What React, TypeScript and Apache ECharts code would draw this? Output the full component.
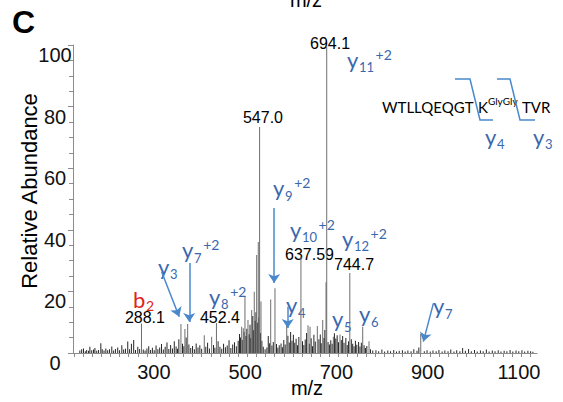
import React, { useEffect, useRef } from 'react';
import * as echarts from 'echarts';

const FONT = '"Liberation Sans", Arial, sans-serif';
const LFONT = 'Lato, "Liberation Sans", sans-serif';
const BLUE_TEXT = '#3a68ae';
const BLUE_LINE = '#4a88cc';
const RED = '#e0231b';
const AXIS_GREY = '#8c8c8c';

const X_MIN = 138;
const X_MAX = 1155;
const xLabelValues = [300, 500, 700, 900, 1100];
const yLabelValues = [0, 20, 40, 60, 80, 100];

// labelled / prominent fragment peaks [m/z, relative abundance]
const majorPeaks: [number, number][] = [
  [288.1, 9.6], [374.6, 9.4], [383.3, 7.8], [389.3, 9.4], [425.7, 5.8], [441.9, 5.3],
  [452.4, 9.7], [507.7, 8.5], [511.2, 8.0], [514.9, 18.3], [521.5, 10.7], [529.6, 14.0],
  [535.3, 19.9], [540.6, 31.8], [544.1, 36.0], [547.0, 73.4], [550.0, 16.7], [571.3, 17.4],
  [580.7, 21.0], [606.4, 9.6], [637.59, 31.3], [653.1, 9.0], [657.5, 8.5], [673.5, 8.8],
  [685.3, 10.7], [692.6, 23.0], [694.1, 99.5], [708.6, 5.3], [723.2, 6.0], [744.7, 26.0],
  [773.0, 8.5], [786.8, 3.8], [900.2, 6.2],
];

// small background peaks [m/z, relative abundance]
const noisePeaks: [number, number][] = [
  [153, 0.8], [157, 1.2], [161, 1.5], [165, 0.6], [168, 1.0], [172, 0.7], [175, 2.0], [179, 0.9],
  [183, 1.1], [186, 1.6], [190, 0.7], [194, 1.0], [199, 3.2], [202, 1.2], [206, 0.8], [210, 1.5],
  [214, 0.9], [218, 1.2], [223, 2.1], [227, 0.8], [231, 1.3], [236, 1.8], [240, 0.9], [245, 2.5],
  [249, 1.1], [253, 1.4], [258, 3.7], [262, 1.2], [266, 3.0], [271, 4.2], [275, 1.0], [280, 2.0],
  [284, 1.3], [292, 1.1], [296, 0.8], [300, 1.5], [304, 2.2], [308, 1.0], [312, 1.7], [316, 0.9],
  [320, 2.4], [324, 1.2], [328, 1.8], [332, 2.9], [336, 1.1], [340, 2.0], [344, 3.4], [348, 1.3],
  [352, 2.6], [356, 1.5], [360, 3.8], [364, 2.1], [367, 1.4], [370, 4.5], [378, 3.0], [381, 2.2],
  [386, 5.0], [392, 2.8], [396, 1.6], [400, 2.3], [404, 1.2], [408, 3.1], [412, 1.8], [416, 2.5],
  [420, 1.4], [429, 2.0], [433, 3.3], [437, 1.5], [446, 2.6], [449, 1.7], [456, 3.8], [460, 2.0],
  [464, 1.4], [468, 3.0], [472, 1.9], [476, 2.4], [480, 4.1], [484, 1.6], [488, 2.8], [492, 3.5],
  [496, 2.2], [500, 4.0], [503, 6.2], [505, 5.0], [509, 4.2], [513, 6.8], [517, 5.5], [519, 7.9],
  [524, 6.1], [526, 9.2], [528, 4.8], [532, 12.0], [534, 7.4], [537, 10.5], [539, 13.2], [542, 9.8],
  [545, 11.5], [549, 6.5], [552, 4.0], [555, 2.0], [559, 1.2], [563, 1.8], [566, 5.5], [569, 3.2],
  [574, 2.4], [577, 3.6], [584, 2.9], [587, 1.7], [590, 2.5], [594, 3.1], [597, 1.9], [600, 4.2],
  [603, 2.8], [609, 5.6], [612, 3.4], [615, 6.8], [618, 4.0], [621, 5.9], [624, 3.3], [627, 4.6],
  [630, 2.5], [633, 5.2], [641, 3.8], [644, 2.6], [647, 4.4], [650, 6.5], [656, 3.0], [660, 4.8],
  [663, 2.2], [666, 5.9], [669, 3.7], [677, 4.5], [680, 6.0], [682, 3.2], [688, 4.9], [690, 7.5],
  [697, 3.6], [700, 2.8], [703, 4.1], [706, 3.0], [711, 6.4], [714, 4.7], [717, 5.8], [720, 3.5],
  [726, 4.2], [729, 5.5], [732, 3.3], [736, 4.9], [739, 2.6], [742, 3.8], [748, 4.5], [751, 3.0],
  [754, 2.2], [757, 4.0], [760, 2.7], [764, 3.6], [767, 2.1], [770, 3.3], [776, 2.5], [779, 1.6],
  [782, 2.3], [790, 1.2], [795, 0.8], [802, 0.9], [808, 0.6], [815, 1.1], [821, 0.5], [828, 0.8],
  [834, 0.6], [841, 1.0], [847, 0.5], [853, 0.7], [860, 0.9], [866, 0.5], [872, 0.8], [879, 0.6],
  [885, 1.2], [892, 0.7], [896, 1.8], [908, 0.6], [914, 0.9], [921, 0.5], [927, 0.8], [934, 0.6],
  [940, 1.0], [947, 0.5], [953, 0.8], [960, 0.6], [966, 1.1], [973, 0.5], [979, 0.9], [986, 0.6],
  [992, 1.6], [998, 0.7], [1005, 1.3], [1011, 0.6], [1018, 1.0], [1024, 0.5], [1031, 0.8], [1037, 0.6],
  [1044, 1.1], [1050, 0.5], [1057, 0.8], [1063, 0.6], [1070, 0.9], [1076, 0.5], [1083, 0.7], [1089, 0.6],
  [1096, 1.0], [1102, 0.5], [1109, 0.8], [1115, 0.6], [1122, 0.9], [1128, 0.5], [1135, 0.7], [1141, 0.6],
  [1146, 0.4],
];

// numeric m/z annotations, anchored in data space (centre of text)
const peakLabels = [
  { text: '694.1', mz: 701.3, val: 100.6 },
  { text: '547.0', mz: 554.4, val: 76.3 },
  { text: '637.59', mz: 656.4, val: 32.1 },
  { text: '744.7', mz: 754.0, val: 28.6 },
  { text: '288.1', mz: 295.6, val: 11.4 },
  { text: '452.4', mz: 460.1, val: 11.4 },
];

// ion annotations, anchored in data space (left / middle of base letter)
const ionLabels = [
  { base: 'y', sub: '11', sup: '+2', mz: 738.6, val: 95.3 },
  { base: 'y', sub: '9', sup: '+2', mz: 576.3, val: 53.7 },
  { base: 'y', sub: '10', sup: '+2', mz: 613.6, val: 40.1 },
  { base: 'y', sub: '12', sup: '+2', mz: 727.6, val: 37.3 },
  { base: 'y', sub: '7', sup: '+2', mz: 376.8, val: 33.6 },
  { base: 'y', sub: '3', sup: '', mz: 324.1, val: 28.1 },
  { base: 'b', sub: '2', sup: '', mz: 269.3, val: 17.4 },
  { base: 'y', sub: '8', sup: '+2', mz: 436.0, val: 18.5 },
  { base: 'y', sub: '4', sup: '', mz: 604.8, val: 15.7 },
  { base: 'y', sub: '5', sup: '', mz: 705.7, val: 11.2 },
  { base: 'y', sub: '6', sup: '', mz: 764.9, val: 12.8 },
  { base: 'y', sub: '7', sup: '', mz: 927.2, val: 15.3 },
];

// arrows: [from m/z, from value, to m/z, to value]
const arrows: [number, number, number, number][] = [
  [578.9, 47.1, 578.9, 22.7],
  [392.8, 29.2, 392.8, 10.1],
  [332.2, 26.4, 370.8, 11.8],
  [608.6, 15.0, 608.6, 8.1],
  [927.9, 16.1, 905.9, 3.7],
];

const xTickValues: number[] = [];
for (let v = 140; v <= 1140; v += 20) xTickValues.push(v);

function ionGraphic(x: number, y: number, base: string, sub: string, sup: string, color: string) {
  const isB = base === 'b';
  const baseW = isB ? 12 : 11;
  const subFs = isB ? 14 : 13;
  const subW = sub.length * subFs * 0.56;
  const els: any[] = [
    { type: 'text', x, y, silent: true, style: { text: base, fill: color, fontSize: 22, fontFamily: LFONT, align: 'left', verticalAlign: 'middle' } },
    { type: 'text', x: x + baseW + 1, y: y + (isB ? 6 : 8), silent: true, style: { text: sub, fill: color, fontSize: subFs, fontFamily: LFONT, align: 'left', verticalAlign: 'middle' } },
  ];
  if (sup) {
    els.push({ type: 'text', x: x + baseW + 1 + subW + 2, y: y - 5, silent: true, style: { text: sup, fill: color, fontSize: 14, fontFamily: LFONT, align: 'left', verticalAlign: 'middle' } });
  }
  return els;
}

export default function App() {
  const ref = useRef<HTMLDivElement>(null);
  useEffect(() => {
    if (!ref.current) return;
    const chart = echarts.init(ref.current, undefined, { renderer: 'svg' });
    chart.setOption({
      animation: false,
      backgroundColor: '#ffffff',
      textStyle: { fontFamily: FONT },
      grid: { left: 73, right: 26, top: 45, bottom: 49, containLabel: false },
      xAxis: {
        type: 'value',
        min: X_MIN,
        max: X_MAX,
        axisLine: { show: true, onZero: false, lineStyle: { color: AXIS_GREY, width: 1 } },
        axisTick: { show: true, customValues: xTickValues, length: 4, lineStyle: { color: AXIS_GREY } },
        axisLabel: {
          customValues: xLabelValues, color: '#111', fontSize: 20, fontFamily: FONT, margin: 9,
          padding: [0, 0, 0, 14], formatter: (v: number) => String(v),
        },
        splitLine: { show: false },
      },
      yAxis: {
        type: 'value',
        min: 0,
        max: 100,
        interval: 20,
        axisLine: { show: true, lineStyle: { color: AXIS_GREY, width: 1 } },
        axisTick: { show: true, length: 5, lineStyle: { color: AXIS_GREY } },
        minorTick: { show: true, splitNumber: 4, length: 4, lineStyle: { color: AXIS_GREY } },
        axisLabel: {
          customValues: yLabelValues, color: '#111', fontSize: 20, fontFamily: FONT,
          align: 'center', verticalAlign: 'top', margin: 18, formatter: (v: number) => String(v),
        },
        splitLine: { show: false },
      },
      series: [
        {
          type: 'bar', name: 'background', data: noisePeaks, barWidth: 1, barGap: '-100%',
          itemStyle: { color: '#262626' }, silent: true,
        },
        {
          type: 'bar', name: 'fragments', data: majorPeaks, barWidth: 1, barGap: '-100%',
          itemStyle: { color: '#6e6e6e' }, silent: true,
          markLine: {
            silent: true,
            symbol: ['none', 'arrow'],
            symbolSize: 9,
            label: { show: false },
            lineStyle: { color: BLUE_LINE, width: 1.5, type: 'solid' },
            data: arrows.map(a => [{ coord: [a[0], a[1]] }, { coord: [a[2], a[3]] }]),
          },
        },
      ],
    });

    const px = (mz: number, v: number) => chart.convertToPixel({ gridIndex: 0 } as any, [mz, v]) as number[];
    const graphics: any[] = [];
    graphics.push({ type: 'text', x: 12, y: 21.5, silent: true, style: { text: 'C', fill: '#000', fontSize: 32, fontWeight: 'bold', fontFamily: FONT, align: 'left', verticalAlign: 'middle' } });
    graphics.push({ type: 'text', x: 306, y: 0, silent: true, style: { text: 'm/z', fill: '#000', fontSize: 20, fontFamily: FONT, align: 'center', verticalAlign: 'middle' } });
    graphics.push({ type: 'text', x: 307, y: 388, silent: true, style: { text: 'm/z', fill: '#000', fontSize: 20, fontFamily: FONT, align: 'center', verticalAlign: 'middle' } });
    graphics.push({ type: 'text', x: 29, y: 191, rotation: Math.PI / 2, silent: true, style: { text: 'Relative Abundance', fill: '#000', fontSize: 22, fontFamily: FONT, align: 'center', verticalAlign: 'middle' } });

    peakLabels.forEach(l => {
      const [x, y] = px(l.mz, l.val);
      graphics.push({ type: 'text', x, y, silent: true, style: { text: l.text, fill: '#000', fontSize: 16, fontFamily: FONT, align: 'center', verticalAlign: 'middle' } });
    });
    ionLabels.forEach(l => {
      const [x, y] = px(l.mz, l.val);
      graphics.push(...ionGraphic(x, y, l.base, l.sub, l.sup, l.base === 'b' ? RED : BLUE_TEXT));
    });

    // peptide sequence diagram
    graphics.push({ type: 'text', x: 382, y: 106.5, silent: true, style: { text: 'WTLLQEQGT', fill: '#000', fontSize: 15, fontFamily: LFONT, align: 'left', verticalAlign: 'middle' } });
    graphics.push({ type: 'text', x: 478, y: 106.5, silent: true, style: { text: 'K', fill: '#000', fontSize: 15, fontFamily: LFONT, align: 'left', verticalAlign: 'middle' } });
    graphics.push({ type: 'text', x: 488, y: 101, silent: true, style: { text: 'GlyGly', fill: '#000', fontSize: 10, fontFamily: LFONT, align: 'left', verticalAlign: 'middle' } });
    graphics.push({ type: 'text', x: 522, y: 106.5, silent: true, style: { text: 'TVR', fill: '#000', fontSize: 15, fontFamily: LFONT, align: 'left', verticalAlign: 'middle' } });
    graphics.push({ type: 'polyline', silent: true, shape: { points: [[455, 79], [470, 79], [480, 120], [493, 120]] }, style: { stroke: BLUE_LINE, lineWidth: 1.5, fill: 'none' } });
    graphics.push({ type: 'polyline', silent: true, shape: { points: [[497, 79], [510, 79], [520, 120], [535, 120]] }, style: { stroke: BLUE_LINE, lineWidth: 1.5, fill: 'none' } });
    graphics.push(...ionGraphic(485, 136, 'y', '4', '', BLUE_TEXT));
    graphics.push(...ionGraphic(533, 136, 'y', '3', '', BLUE_TEXT));

    chart.setOption({ graphic: graphics });
    return () => chart.dispose();
  }, []);
  return <div ref={ref} style={{ position: 'absolute', left: 0, top: 0, width: 563, height: 402 }} />;
}
